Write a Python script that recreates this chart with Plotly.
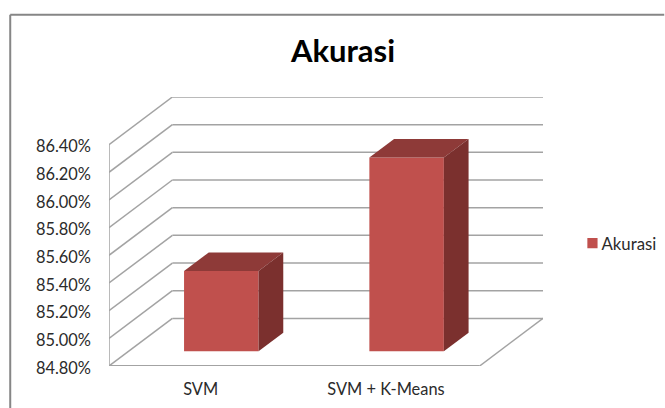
import plotly.graph_objects as go

title = "Akurasi"
series_name = "Akurasi"
categories = ["SVM", "SVM + K-Means"]
values = [0.8538, 0.8620]
y_ticks = [0.848, 0.850, 0.852, 0.854, 0.856, 0.858, 0.860, 0.862, 0.864]
y_tick_labels = ["84.80%", "85.00%", "85.20%", "85.40%", "85.60%", "85.80%", "86.00%", "86.20%", "86.40%"]

# oblique-projection settings of the 3-D look, in axis units
DX, DY = 0.342, 0.00344        # floor depth
BAR_W = 0.402
START, DEPTH = 0.31, 0.39      # bar position along the depth direction
FRONT, TOP, SIDE = "#C0504D", "#8E3A38", "#7B302E"
GRID = "#A3A3A3"
W, H = 665, 408
ML, MR, MT, MB = 108.5, 121.5, 96.5, 42
base = y_ticks[0]
n = len(categories)

fig = go.Figure()
xs = [i + 0.5 + START * DX for i in range(n)]
fig.add_trace(go.Bar(
    x=xs, y=[v - base for v in values], base=base + START * DY, width=BAR_W,
    marker=dict(color=FRONT, line=dict(width=0)), name=series_name, showlegend=True,
))
for xc, v in zip(xs, values):
    l, r = xc - BAR_W / 2, xc + BAR_W / 2
    b, t = base + START * DY, v + START * DY
    ddx, ddy = DEPTH * DX, DEPTH * DY
    fig.add_trace(go.Scatter(x=[l, r, r + ddx, l + ddx, l], y=[t, t, t + ddy, t + ddy, t],
                             fill="toself", fillcolor=TOP, mode="lines", line=dict(width=0),
                             showlegend=False, hoverinfo="skip"))
    fig.add_trace(go.Scatter(x=[r, r + ddx, r + ddx, r, r], y=[b, b + ddy, t + ddy, t, b],
                             fill="toself", fillcolor=SIDE, mode="lines", line=dict(width=0),
                             showlegend=False, hoverinfo="skip"))

shapes = []
def seg(x0, y0, x1, y1, w=1.5):
    shapes.append(dict(type="line", xref="x", yref="y", x0=x0, y0=y0, x1=x1, y1=y1,
                       layer="below", line=dict(color=GRID, width=w)))
for v in y_ticks:
    seg(0, v, DX, v + DY)
    seg(DX, v + DY, n + DX, v + DY)
seg(0, y_ticks[0], 0, y_ticks[-1])
seg(0, base, n, base, 2)
seg(n, base, n + DX, base + DY)

# outer chart frame: left and top edges only are visible in the picture
pw, ph = W - ML - MR, H - MT - MB
fx = (9.5 - ML) / pw
fy = 1 + (MT - 14) / ph
shapes.append(dict(type="line", xref="paper", yref="paper", x0=fx, x1=fx, y0=-MB / ph, y1=fy,
                   line=dict(color="#868686", width=2)))
shapes.append(dict(type="line", xref="paper", yref="paper", x0=fx, x1=1 + MR / pw, y0=fy, y1=fy,
                   line=dict(color="#868686", width=2)))

FONT = "Lato"
fig.update_layout(
    width=W, height=H, margin=dict(l=ML, r=MR, t=MT, b=MB, autoexpand=False),
    paper_bgcolor="white", plot_bgcolor="white",
    font=dict(family=FONT, size=16.4, color="#2b2b2b"),
    title=dict(text="<b>" + title + "</b>", x=343 / W, xanchor="center", y=1 - 51 / H, yanchor="middle",
               font=dict(family=FONT, size=31, color="black")),
    xaxis=dict(range=[0, n + DX], tickmode="array", tickvals=[i + 0.5 for i in range(n)], ticktext=categories,
               showgrid=False, zeroline=False, showline=False, ticks="", ticklabelstandoff=12, ticklabelshift=-1),
    yaxis=dict(range=[base, y_ticks[-1] + DY], tickmode="array", tickvals=y_ticks, ticktext=y_tick_labels,
               showgrid=False, zeroline=False, showline=False, ticks="", ticklabelstandoff=17, ticklabelshift=2),
    legend=dict(x=1 + (562 - (W - MR)) / pw, xanchor="left", y=1 - (243 - MT) / ph, yanchor="middle",
                bgcolor="rgba(0,0,0,0)", font=dict(family=FONT, size=16.8)),
    shapes=shapes, showlegend=True,
)
# The legend swatch sits closer to its label in the reference than plotly's minimum item width allows.
post = """
document.body.style.margin='0';document.body.style.overflow='hidden';
document.querySelectorAll('.legend .legendpoints path').forEach(function(p){
  p.setAttribute('transform',(p.getAttribute('transform')||'')+' translate(11,0) scale(0.85)');
});
"""
fig.write_html("out.html", config={"displayModeBar": False}, post_script=post)
